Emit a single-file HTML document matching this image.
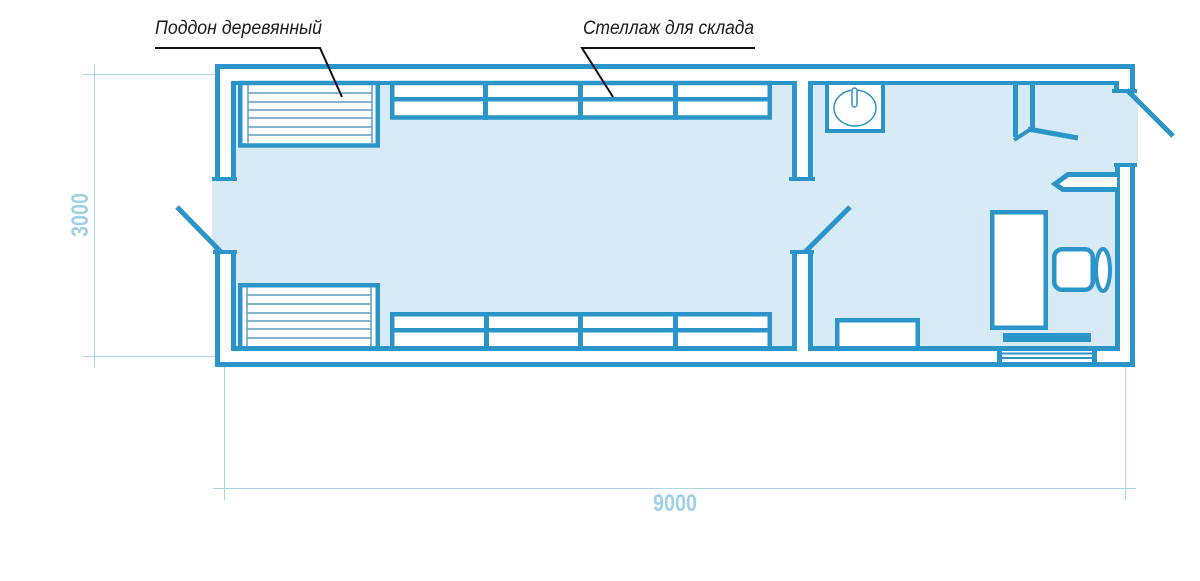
<!DOCTYPE html>
<html>
<head>
<meta charset="utf-8">
<style>
  html,body{margin:0;padding:0;background:#fff;}
  svg{display:block;}
</style>
</head>
<body>
<svg width="1200" height="581" viewBox="0 0 1200 581" xmlns="http://www.w3.org/2000/svg">
  <rect x="0" y="0" width="1200" height="581" fill="#ffffff"/>

  <!-- interior fills -->
  <g fill="#d7eaf6">
    <rect x="236" y="85" width="556" height="261"/>
    <rect x="212" y="181" width="24" height="69"/>
    <rect x="792" y="181" width="21" height="69"/>
    <rect x="813" y="85" width="302" height="261"/>
    <rect x="1115" y="93" width="23" height="70"/>
  </g>

  <!-- dimension lines -->
  <g stroke="#acd7eb" stroke-width="1" fill="none">
    <line x1="94.5" y1="64" x2="94.5" y2="367"/>
    <line x1="83" y1="74.5" x2="215" y2="74.5"/>
    <line x1="83" y1="356.5" x2="215" y2="356.5"/>
    <line x1="213" y1="488.5" x2="1136" y2="488.5"/>
    <line x1="224.5" y1="366" x2="224.5" y2="500"/>
    <line x1="1125.5" y1="366" x2="1125.5" y2="500"/>
  </g>
  <text x="0" y="0" transform="translate(88,237) rotate(-90)" font-family="'Liberation Sans Narrow','Liberation Sans',sans-serif" font-weight="bold" font-size="24" fill="#a0d0e6" textLength="44" lengthAdjust="spacingAndGlyphs">3000</text>
  <text x="653" y="511" font-family="'Liberation Sans Narrow','Liberation Sans',sans-serif" font-weight="bold" font-size="24" fill="#a0d0e6" textLength="44" lengthAdjust="spacingAndGlyphs">9000</text>

  <!-- furniture: pallets -->
  <g fill="#ffffff" stroke="#2b94c9" stroke-width="4.5">
    <rect x="240.25" y="83" width="137.5" height="62.5"/>
    <rect x="240.25" y="285.25" width="137.5" height="63.5"/>
  </g>
  <g stroke="#5c9ebf" stroke-width="1.5" fill="none">
    <line x1="248" y1="85" x2="248" y2="143"/>
    <line x1="372" y1="85" x2="372" y2="143"/>
    <line x1="248" y1="93" x2="372" y2="93"/>
    <line x1="248" y1="102" x2="372" y2="102"/>
    <line x1="248" y1="110" x2="372" y2="110"/>
    <line x1="248" y1="118" x2="372" y2="118"/>
    <line x1="248" y1="127" x2="372" y2="127"/>
    <line x1="248" y1="135" x2="372" y2="135"/>

    <line x1="247" y1="287" x2="247" y2="346"/>
    <line x1="371" y1="287" x2="371" y2="346"/>
    <line x1="247" y1="295" x2="371" y2="295"/>
    <line x1="247" y1="304" x2="371" y2="304"/>
    <line x1="247" y1="313" x2="371" y2="313"/>
    <line x1="247" y1="321" x2="371" y2="321"/>
    <line x1="247" y1="329" x2="371" y2="329"/>
    <line x1="247" y1="338" x2="371" y2="338"/>
  </g>

  <!-- shelves -->
  <g fill="#ffffff" stroke="#2b94c9" stroke-width="4.5">
    <rect x="392.25" y="83" width="377.5" height="34.5"/>
    <rect x="392.25" y="314.25" width="377.5" height="34.5"/>
  </g>
  <g fill="#2b94c9">
    <rect x="390" y="97" width="382" height="4.5"/>
    <rect x="483" y="81" width="5" height="39"/>
    <rect x="578" y="81" width="5" height="39"/>
    <rect x="673" y="81" width="5" height="39"/>
    <rect x="390" y="328" width="382" height="4.5"/>
    <rect x="484" y="312" width="5" height="39"/>
    <rect x="578" y="312" width="5" height="39"/>
    <rect x="673" y="312" width="5" height="39"/>
  </g>

  <!-- sink -->
  <rect x="827" y="83" width="56" height="48" fill="#ffffff" stroke="#2b94c9" stroke-width="4"/>
  <ellipse cx="855" cy="108" rx="21" ry="18" fill="none" stroke="#2b94c9" stroke-width="1.5"/>
  <rect x="852" y="88" width="5" height="19" rx="2.5" fill="#ffffff" stroke="#2b94c9" stroke-width="1.5"/>

  <!-- office furniture -->
  <g fill="#ffffff" stroke="#2b94c9" stroke-width="4.5">
    <rect x="837.25" y="320.25" width="80.5" height="28"/>
    <rect x="992.25" y="212.25" width="53.5" height="115.5"/>
    <rect x="1054.25" y="249.25" width="38.5" height="40.5" rx="8"/>
  </g>
  <ellipse cx="1103" cy="270" rx="7" ry="21" fill="#ffffff" stroke="#2b94c9" stroke-width="4"/>
  <rect x="1003" y="333" width="88" height="9" fill="#2b94c9"/>

  <!-- walls -->
  <g fill="#2b94c9">
    <!-- outer -->
    <rect x="215" y="64" width="920" height="5"/>
    <rect x="215" y="64" width="5" height="117"/>
    <rect x="212" y="177" width="25" height="4"/>
    <rect x="215" y="250" width="5" height="116"/>
    <rect x="213" y="250" width="24" height="4"/>
    <rect x="215" y="362" width="920" height="5"/>
    <rect x="1130" y="64" width="5" height="29"/>
    <rect x="1112" y="89" width="25" height="4"/>
    <rect x="1130" y="163" width="5" height="204"/>
    <rect x="1114" y="163" width="23" height="4"/>
    <!-- inner warehouse -->
    <rect x="231" y="81" width="566" height="4"/>
    <rect x="231" y="81" width="5" height="100"/>
    <rect x="231" y="250" width="5" height="101"/>
    <rect x="231" y="346" width="566" height="5"/>
    <!-- partition -->
    <rect x="792" y="81" width="5" height="100"/>
    <rect x="792" y="250" width="5" height="101"/>
    <rect x="808" y="81" width="5" height="100"/>
    <rect x="808" y="250" width="5" height="101"/>
    <rect x="789" y="177" width="26" height="4"/>
    <rect x="790" y="250" width="24" height="4"/>
    <!-- inner office -->
    <rect x="808" y="81" width="311" height="4"/>
    <rect x="1114" y="81" width="5" height="10"/>
    <rect x="1115" y="163" width="5" height="188"/>
    <rect x="808" y="346" width="312" height="5"/>
    <!-- toilet partition -->
    <rect x="1013" y="81" width="5" height="56"/>
    <rect x="1030" y="81" width="5" height="47"/>
    <!-- window -->
    <rect x="997" y="346" width="5" height="21"/>
    <rect x="1092" y="346" width="5" height="21"/>
    <rect x="1002" y="352.5" width="90" height="2"/>
    <rect x="1002" y="357" width="90" height="2"/>
  </g>

  <!-- hook wall stub -->
  <path d="M1117,174.5 L1068,174.5 L1055,184 L1063,189.5 L1117,189.5" fill="#ffffff" stroke="#2b94c9" stroke-width="5" stroke-linejoin="miter"/>

  <!-- doors -->
  <g stroke="#2b94c9" stroke-width="5" stroke-linecap="butt">
    <line x1="177" y1="207" x2="222" y2="253"/>
    <line x1="805" y1="252" x2="850" y2="207"/>
    <line x1="1127" y1="90" x2="1173" y2="136"/>
    <line x1="1028" y1="129" x2="1078" y2="138"/>
    <line x1="1014" y1="140" x2="1034" y2="127" stroke-width="4"/>
  </g>

  <!-- labels -->
  <text x="155" y="34" font-family="'Liberation Sans Narrow','Liberation Sans',sans-serif" font-style="italic" font-size="19" fill="#1a1a1a" textLength="167" lengthAdjust="spacingAndGlyphs">Поддон деревянный</text>
  <text x="583" y="34" font-family="'Liberation Sans Narrow','Liberation Sans',sans-serif" font-style="italic" font-size="19" fill="#1a1a1a" textLength="171" lengthAdjust="spacingAndGlyphs">Стеллаж для склада</text>
  <g stroke="#111111" stroke-width="2" fill="none">
    <polyline points="155,48 320,48 342,97"/>
    <polyline points="755,48 582,48 613,97"/>
  </g>
</svg>
</body>
</html>
